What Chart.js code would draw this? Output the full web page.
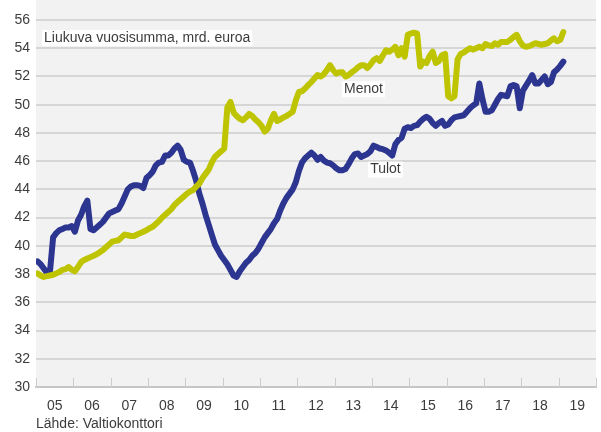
<!DOCTYPE html>
<html>
<head>
<meta charset="utf-8">
<script src="https://cdn.jsdelivr.net/npm/chart.js@4.4.1/dist/chart.umd.min.js"></script>
<style>
  html, body { margin: 0; padding: 0; background: #ffffff; }
  #wrap { width: 601px; height: 432px; }
</style>
</head>
<body>
<div id="wrap"><canvas id="c" width="601" height="432"></canvas></div>
<script>
// Rolling 12-month sums, billion euros, monthly from Jan 2005
const tulot = [
  38.9, 38.7, 38.4, 38.1, 38.2, 40.6, 40.9, 41.1, 41.2, 41.3, 41.3, 41.4,
  41.0, 41.8, 42.2, 42.8, 43.2, 41.2, 41.1, 41.3, 41.5, 41.7, 42.0, 42.3,
  42.4, 42.5, 42.6, 43.0, 43.5, 44.0, 44.2, 44.3, 44.3, 44.25, 44.1, 44.8,
  45.0, 45.25, 45.7, 45.9, 45.95, 46.4, 46.4, 46.6, 46.9, 47.1, 46.8, 46.1,
  45.95, 45.9, 45.3, 44.6, 43.7, 43.0, 42.2, 41.5, 40.8, 40.1, 39.7, 39.3,
  39.0, 38.7, 38.3, 37.9, 37.8, 38.2, 38.5, 38.8, 39.0, 39.3, 39.5, 39.8,
  40.2, 40.6, 40.9, 41.2, 41.6, 41.9, 42.5, 43.0, 43.4, 43.7, 44.0, 44.5,
  45.3, 45.9, 46.2, 46.4, 46.6, 46.4, 46.1, 46.3, 46.05, 45.9, 45.85, 45.7,
  45.5, 45.35, 45.35, 45.45, 45.8, 46.2, 46.5, 46.55, 46.3, 46.4, 46.5, 46.7,
  47.1, 47.0, 46.9, 46.85, 46.75, 46.6, 46.4, 47.2, 47.5, 47.65, 48.3, 48.4,
  48.35, 48.5, 48.55, 48.8, 49.0, 49.15, 49.0, 48.7, 48.5, 48.7, 48.85, 48.5,
  48.6, 48.9, 49.1, 49.15, 49.2, 49.25, 49.5, 49.75, 49.95, 50.1, 51.5, 50.4,
  49.5, 49.5, 49.6, 50.0, 50.4, 50.7, 50.65, 50.6, 51.3, 51.4, 51.3, 49.75,
  51.0, 51.35, 51.7, 52.1, 51.5, 51.5, 51.75, 52.0, 51.45, 51.6, 52.3, 52.5,
  52.75, 53.05
];
const menot = [
  38.05, 37.9, 37.8, 37.85, 37.9, 37.95, 38.05, 38.15, 38.3, 38.35, 38.5, 38.3,
  38.2, 38.5, 38.85, 39.0, 39.1, 39.2, 39.3, 39.4, 39.55, 39.7, 39.9, 40.1,
  40.3, 40.35, 40.4, 40.6, 40.8, 40.75, 40.7, 40.7, 40.8, 40.9, 41.0, 41.1,
  41.25, 41.35, 41.55, 41.75, 42.0, 42.2, 42.4, 42.6, 42.9, 43.1, 43.3, 43.5,
  43.7, 43.85, 43.95, 44.2, 44.4, 44.8, 45.1, 45.4, 45.9, 46.3, 46.5, 46.7,
  46.9, 49.8, 50.2, 49.45, 49.2, 49.0, 48.9, 49.1, 49.35, 49.2, 48.95, 48.75,
  48.5, 48.1, 48.3, 48.9, 49.35, 48.85, 48.95, 49.1, 49.2, 49.35, 49.5, 50.3,
  50.9, 50.95, 51.15, 51.4, 51.6, 51.85, 52.1, 52.0, 52.15, 52.45, 52.8, 52.45,
  52.2, 52.3, 52.3, 52.0, 52.1, 52.3, 52.45, 52.65, 52.8, 52.8, 52.6, 52.85,
  53.15, 53.3, 53.1, 53.5, 53.85, 53.75, 53.9, 54.1, 53.5, 54.0, 53.4, 54.95,
  55.05, 55.1, 55.05, 52.7, 53.05, 52.95, 53.45, 53.75, 52.95, 53.1, 53.5, 53.6,
  50.6, 50.45, 50.6, 53.2, 53.6, 53.7, 53.85, 54.0, 53.9, 54.0, 54.1, 54.0,
  54.3, 54.2, 54.15, 54.35, 54.25, 54.45, 54.45, 54.45, 54.6, 54.8, 54.95, 54.5,
  54.2, 54.1, 54.15, 54.25, 54.35, 54.3, 54.25, 54.3, 54.35, 54.55, 54.7, 54.5,
  54.6, 55.15
];
const yearLabels = ['05','06','07','08','09','10','11','12','13','14','15','16','17','18','19'];
const yMin = 30, yMax = 56, yStep = 2;

const TEXT = '#3c3c3c';
const FONT = '"Liberation Sans", Arial, sans-serif';

// monthly points placed in the middle of each month
const toPoints = arr => arr.map((v, i) => ({ x: i + 0.5, y: v }));

const decor = {
  id: 'decor',
  beforeDraw(chart) {
    const { ctx, chartArea: a } = chart;
    ctx.save();
    ctx.fillStyle = '#f2f2f2';
    ctx.fillRect(a.left, 0, a.right - a.left, a.bottom);
    ctx.restore();
  },
  afterDatasetsDraw(chart) {
    const { ctx, chartArea: a, scales } = chart;
    const xs = scales.x, ys = scales.y;
    ctx.save();
    // year tick marks rising from the base line
    ctx.strokeStyle = '#cdcdcd';
    ctx.lineWidth = 1;
    for (let k = 0; k <= yearLabels.length; k++) {
      const px = Math.round(xs.getPixelForValue(k * 12)) + 0.5;
      ctx.beginPath();
      ctx.moveTo(px, a.bottom);
      ctx.lineTo(px, a.bottom - 9);
      ctx.stroke();
    }
    // text boxes
    ctx.font = '14px ' + FONT;
    ctx.textBaseline = 'middle';
    const box = (txt, x, y) => {
      const w = ctx.measureText(txt).width;
      ctx.fillStyle = '#ffffff';
      ctx.fillRect(x - 2, y - 8, w + 4, 16);
      ctx.fillStyle = TEXT;
      ctx.fillText(txt, x, y);
    };
    box('Liukuva vuosisumma, mrd. euroa', a.left + 8, 38);
    box('Menot', xs.getPixelForValue(99), ys.getPixelForValue(51.1));
    box('Tulot', xs.getPixelForValue(107.4), ys.getPixelForValue(45.4));
    ctx.textBaseline = 'alphabetic';
    ctx.fillStyle = TEXT;
    ctx.fillText('Lähde: Valtiokonttori', a.left, 428);
    ctx.restore();
  }
};

new Chart(document.getElementById('c'), {
  type: 'line',
  data: {
    datasets: [
      {
        label: 'Menot',
        data: toPoints(menot),
        borderColor: '#bec400',
        borderWidth: 6,
        pointRadius: 0,
        tension: 0,
        borderJoinStyle: 'round',
        borderCapStyle: 'round',
        order: 0
      },
      {
        label: 'Tulot',
        data: toPoints(tulot),
        borderColor: '#2c3590',
        borderWidth: 6,
        pointRadius: 0,
        tension: 0,
        borderJoinStyle: 'round',
        borderCapStyle: 'round',
        order: 1
      }
    ]
  },
  options: {
    responsive: false,
    animation: false,
    events: [],
    layout: { padding: { top: 20, right: 5, bottom: 0, left: 0 } },
    plugins: { legend: { display: false }, tooltip: { enabled: false } },
    scales: {
      x: {
        type: 'linear',
        min: 0,
        max: yearLabels.length * 12,
        grid: { display: false, drawTicks: false },
        border: { display: true, color: '#c6c6c6', width: 2 },
        afterBuildTicks(scale) {
          scale.ticks = yearLabels.map((_, k) => ({ value: k * 12 + 6 }));
        },
        afterFit(scale) { scale.height = 45; },
        ticks: {
          autoSkip: false,
          maxRotation: 0,
          padding: 11,
          color: TEXT,
          font: { family: FONT, size: 14 },
          callback: v => yearLabels[Math.floor(v / 12)]
        }
      },
      y: {
        min: yMin,
        max: yMax,
        grid: { color: '#d6d6d6', lineWidth: 2, drawTicks: false },
        border: { display: false },
        afterFit(scale) { scale.width = 36; },
        ticks: {
          stepSize: yStep,
          padding: 6,
          color: TEXT,
          font: { family: FONT, size: 14 }
        }
      }
    }
  },
  plugins: [decor]
});
</script>
</body>
</html>
